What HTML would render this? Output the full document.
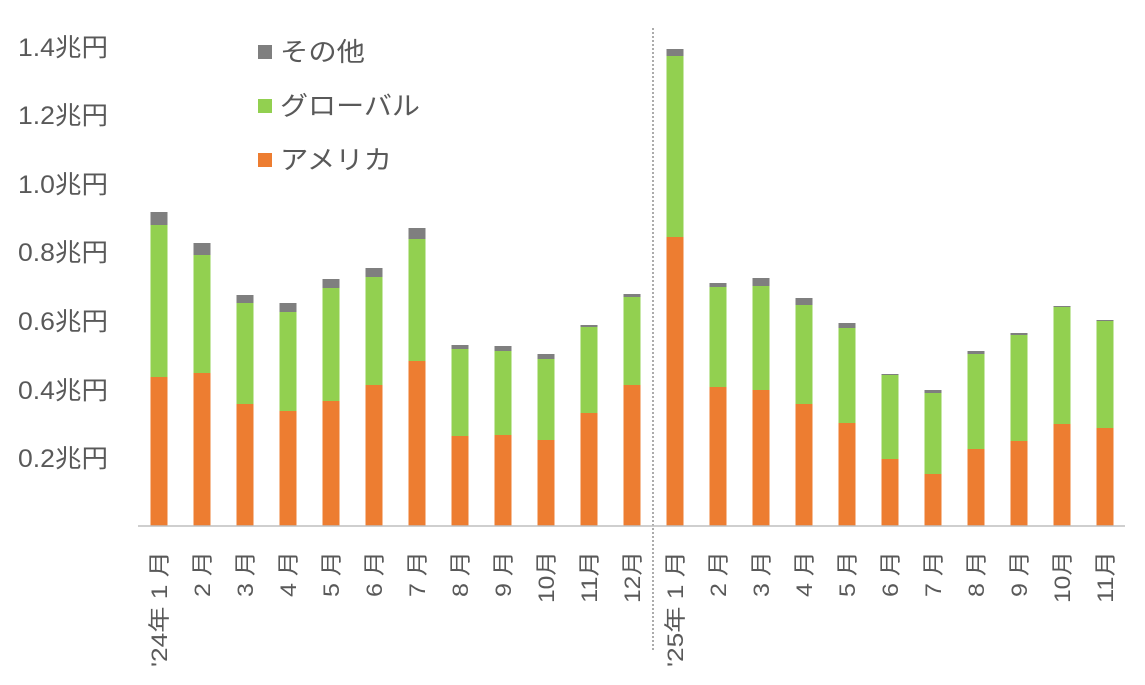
<!DOCTYPE html>
<html><head><meta charset="utf-8"><style>
body{margin:0;background:#fff;}
svg text{font-family:"Liberation Sans","Noto Sans CJK JP",sans-serif;fill:#595959;}
</style></head><body>
<svg width="1145" height="680" viewBox="0 0 1145 680">
<g font-size="25">
<text x="18" y="56" textLength="90" lengthAdjust="spacingAndGlyphs">1.4兆円</text>
<text x="18" y="124" textLength="90" lengthAdjust="spacingAndGlyphs">1.2兆円</text>
<text x="18" y="193" textLength="90" lengthAdjust="spacingAndGlyphs">1.0兆円</text>
<text x="18" y="261" textLength="90" lengthAdjust="spacingAndGlyphs">0.8兆円</text>
<text x="18" y="330" textLength="90" lengthAdjust="spacingAndGlyphs">0.6兆円</text>
<text x="18" y="399" textLength="90" lengthAdjust="spacingAndGlyphs">0.4兆円</text>
<text x="18" y="467" textLength="90" lengthAdjust="spacingAndGlyphs">0.2兆円</text>
</g>
<g font-size="26">
<rect x="258" y="45" width="14" height="14" fill="#7F7F7F"/><text x="280" y="61" textLength="85" lengthAdjust="spacingAndGlyphs">その他</text>
<rect x="258" y="99" width="14" height="14" fill="#92D050"/><text x="280" y="115" textLength="140" lengthAdjust="spacingAndGlyphs">グローバル</text>
<rect x="258" y="153" width="14" height="14" fill="#ED7D31"/><text x="280" y="169" textLength="112" lengthAdjust="spacingAndGlyphs">アメリカ</text>
</g>
<line x1="653" y1="28" x2="653" y2="652" stroke="#808080" stroke-width="1.3" stroke-dasharray="2,2"/>
<g id="bars"></g>
<line x1="138" y1="526" x2="1125" y2="526" stroke="#bfbfbf" stroke-width="1.5"/>
<g id="labels" font-size="22"></g>
</svg>
<script>
var d=[[377,225,212],[373,255,243],[404,303,295],[411,312,303],[401,288,279],[385,277,268],[361,239,228],[436,349,345],[435,351,346],[440,359,354],[413,327,325],[385,297,294],[237,56,49],[387,287,283],[390,286,278],[404,305,298],[423,328,323],[459,375,374],[474,393,390],[449,354,351],[441,335,333],[424,307,306],[428,321,320]];
var L=["'24年 1 月","2 月","3 月","4 月","5 月","6 月","7 月","8 月","9 月","10月","11月","12月","'25年 1 月","2 月","3 月","4 月","5 月","6 月","7 月","8 月","9 月","10月","11月"];
var ns="http://www.w3.org/2000/svg",b=document.getElementById("bars"),lb=document.getElementById("labels");
function r(x,y,h,c){var e=document.createElementNS(ns,"rect");e.setAttribute("x",x);e.setAttribute("y",y);e.setAttribute("width",17);e.setAttribute("height",h);e.setAttribute("fill",c);b.appendChild(e);}
d.forEach(function(v,i){var cx=159+i*43,x=cx-8.5;
r(x,v[0],526-v[0],"#ED7D31");r(x,v[1],v[0]-v[1],"#92D050");r(x,v[2],v[1]-v[2],"#7F7F7F");
var s=L[i],len=s.length>4?116:(s.indexOf(" ")>0?46:52);
var t=document.createElementNS(ns,"text");t.setAttribute("transform","translate("+(cx+8)+",551) rotate(-90)");t.setAttribute("text-anchor","end");t.setAttribute("textLength",len);t.setAttribute("lengthAdjust","spacingAndGlyphs");t.textContent=s;lb.appendChild(t);});
</script>
</body></html>
